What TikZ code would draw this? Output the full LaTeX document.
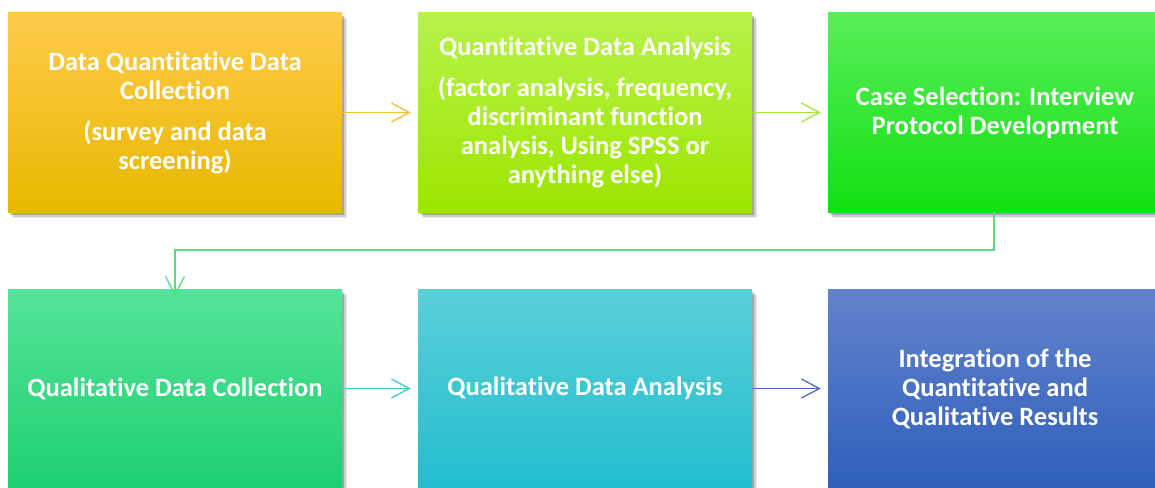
\documentclass[tikz,border=0pt]{standalone}
\usepackage{fontspec}
\setmainfont[Ligatures=NoCommon]{Carlito}
\usetikzlibrary{shadows,arrows.meta}
\definecolor{aT}{HTML}{FFCA4A}\definecolor{aM}{HTML}{FFC000}\definecolor{aB}{HTML}{E8B800}
\definecolor{bT}{HTML}{B8F24A}\definecolor{bM}{HTML}{A8EE10}\definecolor{bB}{HTML}{9CE600}
\definecolor{cT}{HTML}{58EE58}\definecolor{cM}{HTML}{30E830}\definecolor{cB}{HTML}{12E012}
\definecolor{dT}{HTML}{55E39A}\definecolor{dM}{HTML}{2CDC80}\definecolor{dB}{HTML}{1ED070}
\definecolor{eT}{HTML}{5ACFD8}\definecolor{eM}{HTML}{38C8D2}\definecolor{eB}{HTML}{22BECE}
\definecolor{fT}{HTML}{6283CC}\definecolor{fM}{HTML}{4470C4}\definecolor{fB}{HTML}{2F5FBC}
\definecolor{arA}{HTML}{F8C038}\definecolor{arB}{HTML}{A0E840}\definecolor{arC}{HTML}{50E080}
\definecolor{arD}{HTML}{40D0C0}\definecolor{arE}{HTML}{4A70C0}
\tikzset{
  stepbox/.style={minimum width=334pt,minimum height=199pt,inner sep=0pt,
    text=white,font=\fontsize{26.5}{29}\selectfont\bfseries,align=center,
    drop shadow={shadow xshift=5pt,shadow yshift=-6pt,opacity=0.08,fill=black},
    drop shadow={shadow xshift=3.5pt,shadow yshift=-4.5pt,opacity=0.12,fill=black},
    drop shadow={shadow xshift=2pt,shadow yshift=-3pt,opacity=0.2,fill=black}},
  conn/.style={line width=1.3pt,-{Straight Barb[length=18pt,width=19pt,line width=1.3pt]}}
}
\begin{document}
\begin{tikzpicture}[x=1pt,y=-1pt]
\useasboundingbox (0,0) rectangle (1155,487);
\clip (0,0) rectangle (1155,487);
\fill[white] (0,0) rectangle (1155,487);
\node[stepbox,top color=aT,middle color=aM,bottom color=aB] (b1) at (175,112.5)
  {Data Quantitative Data\\Collection\\[12pt](survey and data\\screening)};
\node[stepbox,top color=bT,middle color=bM,bottom color=bB] (b2) at (585,112.5)
  {Quantitative Data Analysis\\[12pt](factor analysis, frequency,\\discriminant function\\analysis, Using SPSS or\\anything else)};
\node[stepbox,top color=cT,middle color=cM,bottom color=cB] (b3) at (995,112.5)
  {Case Selection: Interview\\Protocol Development};
\node[stepbox,top color=dT,middle color=dM,bottom color=dB] (b4) at (175,388.5)
  {Qualitative Data Collection};
\node[stepbox,top color=eT,middle color=eM,bottom color=eB] (b5) at (585,388.5)
  {Qualitative Data Analysis};
\node[stepbox,top color=fT,middle color=fM,bottom color=fB] (b6) at (995,388.5)
  {Integration of the\\Quantitative and\\Qualitative Results};
\coordinate (m1) at (994,250);
\coordinate (m2) at (175,250);
\draw[conn,arA] (b1.east) -- ([xshift=-7pt]b2.west);
\draw[conn,arB] (b2.east) -- ([xshift=-7pt]b3.west);
\draw[conn,arC] (b3.south -| m1) -- (m1) -- (m2) -- ([yshift=-7pt]b4.north);
\draw[conn,arD] (b4.east) -- ([xshift=-7pt]b5.west);
\draw[conn,arE] (b5.east) -- ([xshift=-7pt]b6.west);
\end{tikzpicture}
\end{document}
